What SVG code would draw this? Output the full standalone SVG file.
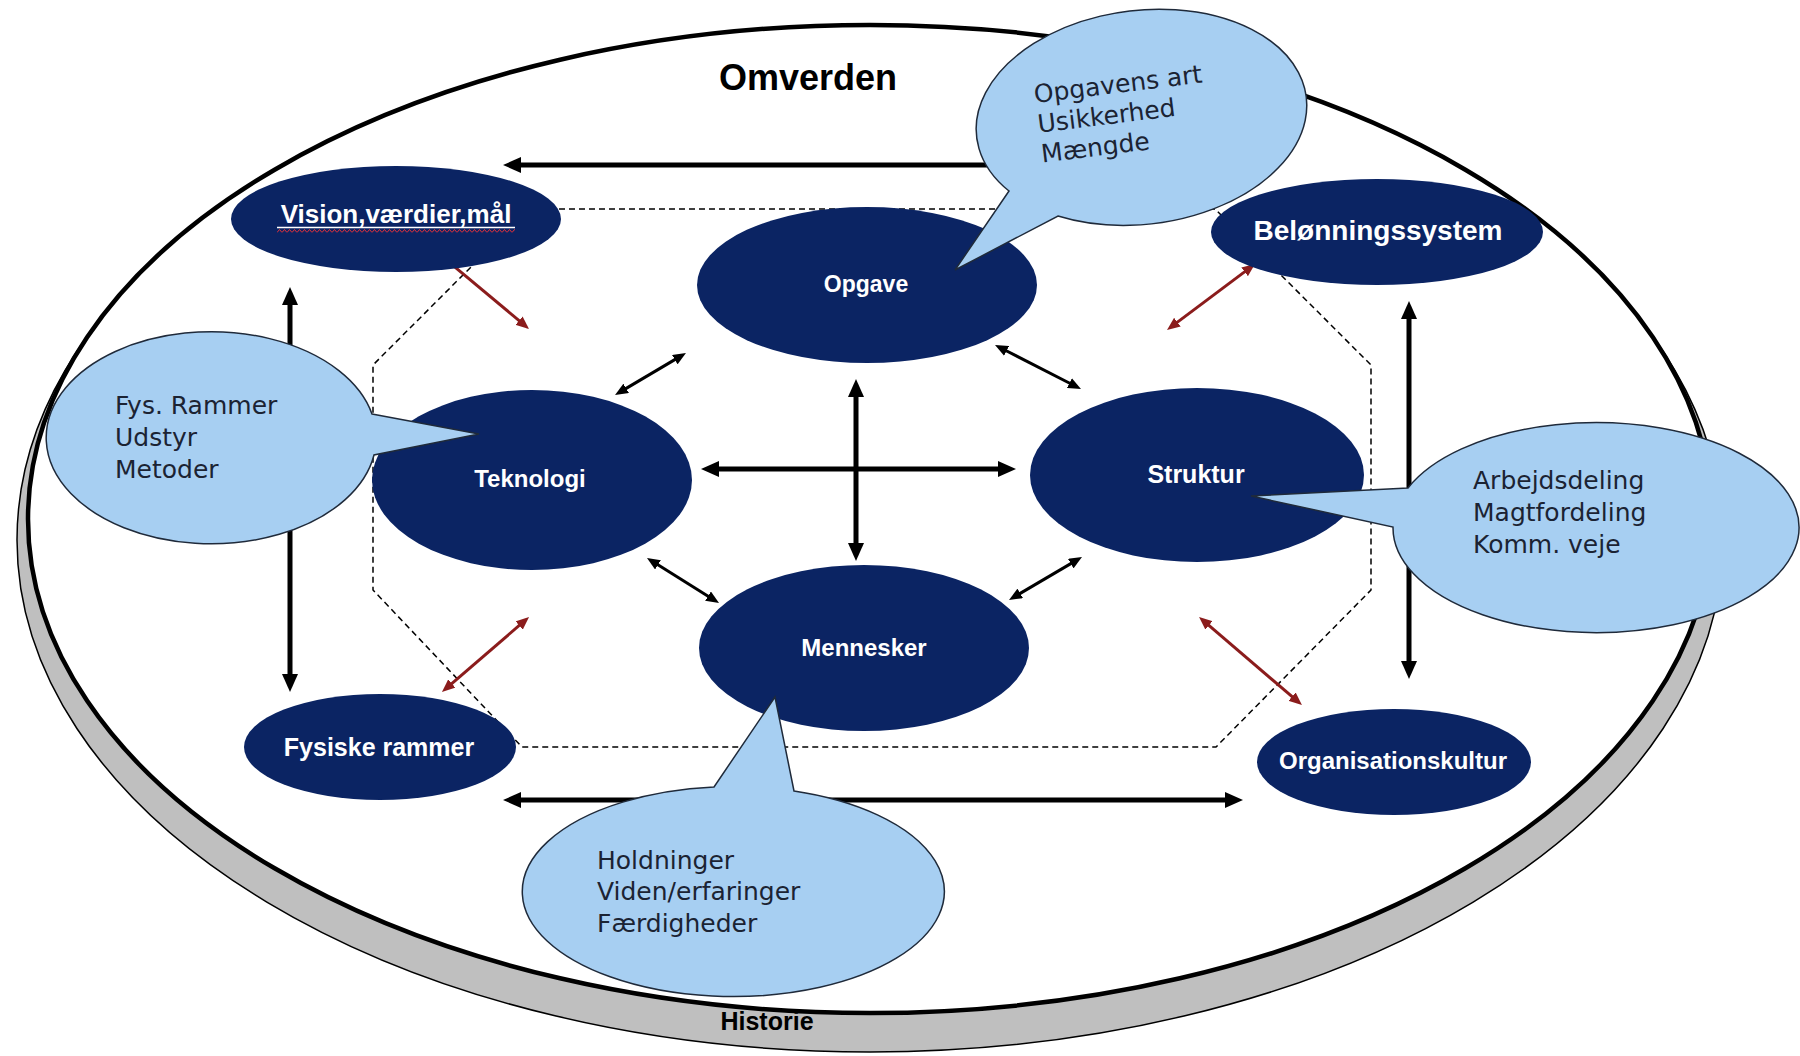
<svg xmlns="http://www.w3.org/2000/svg" width="1800" height="1056" viewBox="0 0 1800 1056">
<style>
  .node { fill: #0b2463; }
  .nlabel { font-family: "Liberation Sans", Arial, sans-serif; font-weight: bold; fill: #ffffff; text-anchor: middle; }
  .callout { fill: #a7cff2; stroke: #1f2a3a; stroke-width: 1.5; }
  .ctext { font-family: "DejaVu Sans", "Liberation Sans", sans-serif; font-size: 25px; fill: #1b2333; }
  .thick { stroke: #000; stroke-width: 5; fill: none; marker-end: url(#ah); }
  .thick2 { stroke: #000; stroke-width: 5; fill: none; marker-start: url(#ah); marker-end: url(#ah); }
  .thin2 { stroke: #000; stroke-width: 3; fill: none; marker-start: url(#ahs); marker-end: url(#ahs); }
  .red2 { stroke: #8b1c1c; stroke-width: 3; fill: none; marker-start: url(#ahr); marker-end: url(#ahr); }
  .title { font-family: "Liberation Sans", Arial, sans-serif; font-weight: bold; fill: #000; text-anchor: middle; }
</style>
<defs>
  <marker id="ah" markerUnits="userSpaceOnUse" markerWidth="18" markerHeight="16" refX="2" refY="8" orient="auto-start-reverse">
    <path d="M0,0 L18,8 L0,16 Z" fill="#000"/>
  </marker>
  <marker id="ahs" markerUnits="userSpaceOnUse" markerWidth="13" markerHeight="11" refX="2" refY="5.5" orient="auto-start-reverse">
    <path d="M0,0 L13,5.5 L0,11 Z" fill="#000"/>
  </marker>
  <marker id="ahr" markerUnits="userSpaceOnUse" markerWidth="13" markerHeight="11" refX="2" refY="5.5" orient="auto-start-reverse">
    <path d="M0,0 L13,5.5 L0,11 Z" fill="#8b1c1c"/>
  </marker>
  <pattern id="wavy" patternUnits="userSpaceOnUse" x="277" y="229" width="5" height="4">
    <path d="M0,3.5 L2.5,0.5 L5,3.5" fill="none" stroke="#e0303a" stroke-width="1"/>
  </pattern>
</defs>
<rect width="1800" height="1056" fill="#ffffff"/>

<g id="historie">
  <ellipse cx="870" cy="540" rx="853" ry="512" fill="#bfbfbf" stroke="#000" stroke-width="1.5"/>
  <text class="title" x="767" y="1030" font-size="25">Historie</text>
</g>
<g id="omverden">
  <ellipse cx="870" cy="519" rx="842" ry="494" fill="#ffffff" stroke="#000" stroke-width="4.5"/>
</g>

<g id="boundary">
  <polygon points="529,209 1215,209 1371,365 1371,590 1216,747 522,747 373,590 373,365" fill="none" stroke="#000" stroke-width="1.5" stroke-dasharray="6 4"/>
</g>

<g id="connectors">
  <line class="thick" x1="1050" y1="165" x2="519" y2="165"/>
  <line class="thick2" x1="290" y1="303" x2="290" y2="676"/>
  <line class="thick2" x1="1409" y1="317" x2="1409" y2="663"/>
  <line class="thick2" x1="519" y1="800" x2="1227" y2="800"/>
  <line class="thick2" x1="717" y1="469" x2="1000" y2="469"/>
  <line class="thick2" x1="856" y1="395" x2="856" y2="545"/>
  <line class="thin2" x1="624.5" y1="389.4" x2="676.5" y2="358.6"/>
  <line class="thin2" x1="1004.8" y1="350" x2="1071.2" y2="384"/>
  <line class="thin2" x1="656.3" y1="563.8" x2="709.7" y2="597.2"/>
  <line class="thin2" x1="1018.5" y1="594.4" x2="1072.5" y2="562.6"/>
  <line class="red2" x1="451.4" y1="264.1" x2="520.6" y2="321.9"/>
  <line class="red2" x1="1246.2" y1="270.6" x2="1175.8" y2="323.4"/>
  <line class="red2" x1="520.7" y1="624.2" x2="450.3" y2="684.8"/>
  <line class="red2" x1="1207.4" y1="624.1" x2="1293.6" y2="697.9"/>
</g>

<g id="vision">
  <ellipse class="node" cx="396" cy="219" rx="165" ry="53"/>
  <text class="nlabel" x="396" y="223" font-size="26">Vision,værdier,mål</text>
  <line x1="277" y1="227.5" x2="515" y2="227.5" stroke="#ffffff" stroke-width="1.5"/>
  <rect x="277" y="229" width="238" height="4" fill="url(#wavy)"/>
</g>
<g id="opgave">
  <ellipse class="node" cx="867" cy="285" rx="170" ry="78"/>
  <text class="nlabel" x="866" y="292" font-size="23">Opgave</text>
</g>
<g id="teknologi">
  <ellipse class="node" cx="532" cy="480" rx="160" ry="90"/>
  <text class="nlabel" x="530" y="487" font-size="24">Teknologi</text>
</g>
<g id="struktur">
  <ellipse class="node" cx="1197" cy="475" rx="167" ry="87"/>
  <text class="nlabel" x="1196" y="483" font-size="25">Struktur</text>
</g>
<g id="mennesker">
  <ellipse class="node" cx="864" cy="648" rx="165" ry="83"/>
  <text class="nlabel" x="864" y="656" font-size="24">Mennesker</text>
</g>
<g id="beloenningssystem">
  <ellipse class="node" cx="1377" cy="232" rx="166" ry="53"/>
  <text class="nlabel" x="1378" y="240" font-size="28">Belønningssystem</text>
</g>
<g id="fysiske-rammer">
  <ellipse class="node" cx="380" cy="747" rx="136" ry="53"/>
  <text class="nlabel" x="379" y="756" font-size="25">Fysiske rammer</text>
</g>
<g id="organisationskultur">
  <ellipse class="node" cx="1394" cy="762" rx="137" ry="53"/>
  <text class="nlabel" x="1393" y="769" font-size="24">Organisationskultur</text>
</g>

<g id="callout-opgave">
  <path class="callout" d="M1009,191 L955,270 L1058,216 A166 107 -7 1 0 1009,191 Z"/>
  <g transform="rotate(-7 1035 103)">
    <text class="ctext" x="1035" y="103">Opgavens art</text>
    <text class="ctext" x="1035" y="133">Usikkerhed</text>
    <text class="ctext" x="1035" y="163">Mængde</text>
  </g>
</g>
<g id="callout-teknologi">
  <path class="callout" d="M372,414 L479,434 L374,455 A165 106 0 1 1 372,414 Z"/>
  <text class="ctext" x="115" y="414">Fys. Rammer</text>
  <text class="ctext" x="115" y="446">Udstyr</text>
  <text class="ctext" x="115" y="478">Metoder</text>
</g>
<g id="callout-struktur">
  <path class="callout" d="M1408,488 L1251,496 L1393,527 A203 105 0 1 0 1408,488 Z"/>
  <text class="ctext" x="1473" y="489">Arbejdsdeling</text>
  <text class="ctext" x="1473" y="521">Magtfordeling</text>
  <text class="ctext" x="1473" y="553">Komm. veje</text>
</g>
<g id="callout-mennesker">
  <path class="callout" d="M714,787 L775,697 L794,791 A211 105 0 1 1 714,787 Z"/>
  <text class="ctext" x="597" y="869">Holdninger</text>
  <text class="ctext" x="597" y="900">Viden/erfaringer</text>
  <text class="ctext" x="597" y="932">Færdigheder</text>
</g>

<text class="title" x="808" y="90" font-size="36">Omverden</text>
</svg>
